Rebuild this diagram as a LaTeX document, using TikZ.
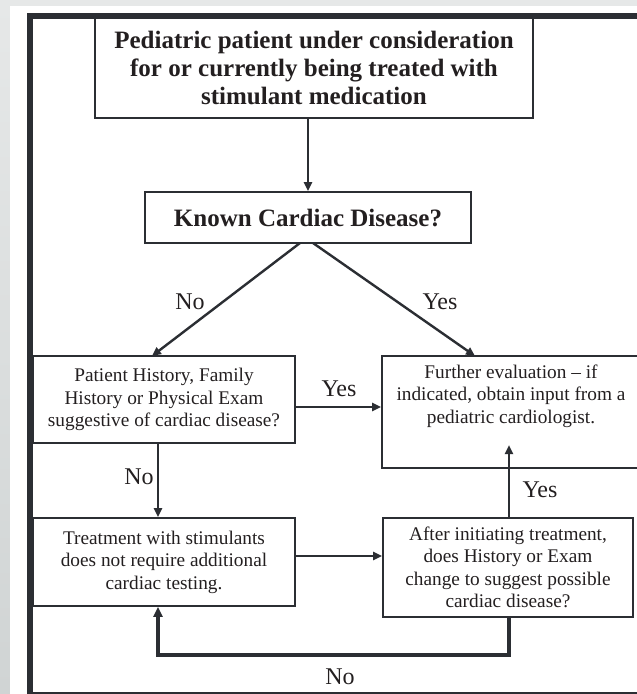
\documentclass[tikz,border=0pt]{standalone}
\usepackage{fontspec}
\setmainfont{Liberation Serif}
\usetikzlibrary{arrows.meta}
\definecolor{ink}{HTML}{2B2E33}
\definecolor{txt}{HTML}{231F20}
\definecolor{bgA}{HTML}{F6F7F7}
\definecolor{bgB}{HTML}{E6E8E8}
\definecolor{bgC}{HTML}{D0D4D4}
\tikzset{
  box/.style={draw=ink, line width=1.8pt, fill=white, inner sep=0pt, align=center, text=txt,
              font=\fontsize{19.3}{22.5}\selectfont},
  titlebox/.style={box, font=\bfseries\fontsize{25}{28}\selectfont},
  conn/.style={draw=ink, line width=2.4pt, -{Triangle[length=9pt,width=8pt]}},
  lbl/.style={text=txt, inner sep=0pt, font=\fontsize{24}{26}\selectfont},
  btext/.style={text=txt, inner sep=0pt, align=center, font=\fontsize{19.3}{22.5}\selectfont}
}
\begin{document}
\begin{tikzpicture}[x=1pt,y=-1pt]
\useasboundingbox (0,0) rectangle (637,694);
\clip (0,0) rectangle (637,694);
% background
\fill[bgA] (0,0) rectangle (637,694);
\fill[bgB] (0,0) rectangle (637,6);
\shade[top color=bgB, bottom color=bgC] (0,0) rectangle (10,694);
\fill[white] (10,6) rectangle (637,694);
% outer frame
\draw[ink, line width=6pt] (30,16) rectangle (670,695);
% boxes
\node[titlebox, minimum width=438, minimum height=100] (A) at (314,68)
  {Pediatric patient under consideration\\for or currently being treated with\\stimulant medication};
\node[titlebox, minimum width=326, minimum height=51] (B) at (308,217.5) {Known Cardiac Disease?};
\node[box, minimum width=262, minimum height=87] (C) at (164,399.5)
  {Patient History, Family\\History or Physical Exam\\suggestive of cardiac disease?};
\node[box, minimum width=258, minimum height=112] (D) at (511,412) {};
\node[btext] (Dt) at (511,396) {Further evaluation -- if\\indicated, obtain input from a\\pediatric cardiologist.};
\node[box, minimum width=262, minimum height=88] (E) at (164,562)
  {Treatment with stimulants\\does not require additional\\cardiac testing.};
\node[box, minimum width=250, minimum height=99] (F) at (508,567.5)
  {After initiating treatment,\\does History or Exam\\change to suggest possible\\cardiac disease?};
% redraw frame edge over boxes touching it
\draw[ink, line width=6pt] (30,16) -- (30,695);
\draw[ink, line width=6pt] (27,16) -- (670,16);
% connectors
\draw[conn] (A.south -| 308,0) -- (B.north -| 308,0);
\coordinate (bl) at (300,243);
\coordinate (br) at (313,243);
\draw[conn] (bl) -- (152,356);
\draw[conn] (br) -- (475,356);
\draw[conn] (C.east |- 0,407) -- (D.west |- 0,407);
\draw[conn] (C.south -| 158,0) -- (E.north -| 158,0);
\draw[conn] (E.east |- 0,556) -- (F.west |- 0,556);
\coordinate (ytip) at (509,445);
\draw[conn] (F.north -| 509,0) -- (ytip);
\draw[draw=ink, line width=4pt, -{Triangle[length=10pt,width=9pt]}]
  (F.south -| 509,0) -- (509,655) -- (158,655) -- (E.south -| 158,0);
% labels
\node[lbl] (l1) at (190,302) {No};
\node[lbl] (l2) at (440,302) {Yes};
\node[lbl] (l3) at (339,389) {Yes};
\node[lbl] (l4) at (139,477) {No};
\node[lbl] (l5) at (540,490) {Yes};
\node[lbl] (l6) at (340,677) {No};
\end{tikzpicture}
\end{document}
